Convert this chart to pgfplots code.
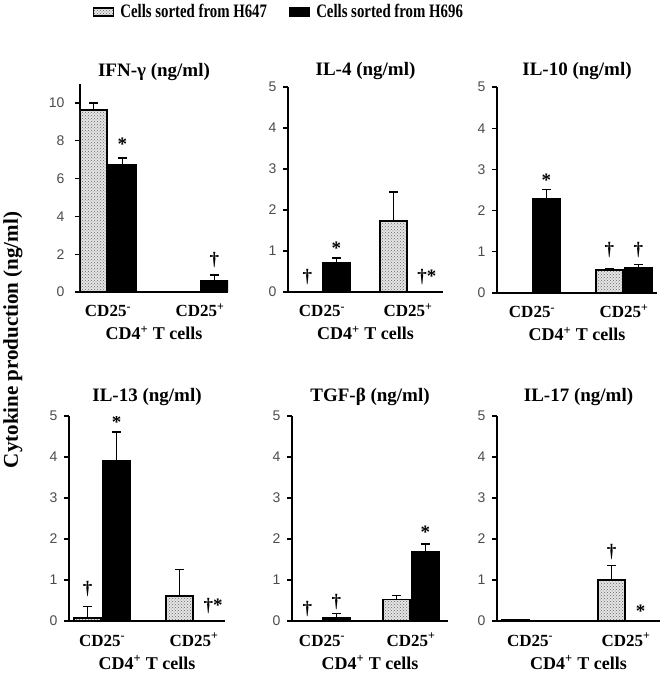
\documentclass[border=0pt]{standalone}
\usepackage{fontspec}
\setmainfont{Liberation Serif}
\newfontfamily\legfont{Liberation Serif}[FakeStretch=0.78]
\newfontfamily\tickfont{Liberation Sans}
\usepackage{pgfplots}
\pgfplotsset{compat=1.18}
\usetikzlibrary{patterns}

\tikzset{ann/.style={font=\bfseries\fontsize{19}{19}\selectfont, inner sep=0pt}}
\pgfplotsset{
  panel/.style={scale only axis, anchor=south west, ymin=0,
    axis lines=left, axis line style={-, line width=1.6pt},
    xtick={1,2}, xticklabels={CD25\textsuperscript{-},CD25\textsuperscript{+}},
    x tick style={draw=none}, ytick style={line width=1.2pt, black},
    tick align=outside, major tick length=5pt,
    /pgf/number format/assume math mode=true,
    yticklabel style={font=\tickfont\mdseries\fontsize{14}{14}\selectfont, text=black!70, xshift=-3pt},
    xticklabel style={font=\bfseries\fontsize{17}{17}\selectfont, anchor=base, yshift=-20pt},
    xlabel={CD4\textsuperscript{+} T cells},
    xlabel style={at={(axis description cs:0.5,0)}, anchor=base, yshift=-48pt, font=\bfseries\fontsize{18}{18}\selectfont},
    title style={at={(axis description cs:0.5,1)}, anchor=base, yshift=6pt, font=\bfseries\fontsize{19}{19}\selectfont},
    ybar=2pt, bar width=27pt,
    error bars/y dir=plus, error bars/y explicit,
    error bars/error mark options={rotate=90, line width=1.2pt, mark size=4.5pt, black},
    error bars/error bar style={line width=1.2pt, black},
  },
  h647/.style={draw=black, line width=1.4pt, fill=gray!20, postaction={pattern=crosshatch dots, pattern color=black!60}},
  h696/.style={draw=black, line width=1.4pt, fill=black},
  lower/.style={title style={yshift=3pt}},
}

\begin{document}
\begin{tikzpicture}
\path[use as bounding box] (0,0) rectangle (665pt,675pt);

% IFN-gamma
\begin{axis}[panel, at={(80pt,383pt)}, width=148pt, height=208pt, ymax=11, ytick={0,2,...,10},
  xmin=0.696, xmax=2.305, title={IFN-γ (ng/ml)}, title style={yshift=-5pt},
  yticklabel style={xshift=-4pt},
  legend style={at={(axis description cs:1.345,1.346)}, anchor=center, draw=none, fill=none,
    legend columns=2, font=\legfont\bfseries\fontsize{19}{19}\selectfont,
    /tikz/every odd column/.append style={column sep=4pt},
    /tikz/every even column/.append style={column sep=20pt}},
  legend image code/.code={\draw[#1, line width=1.2pt] (0pt,-4pt) rectangle (20pt,4pt);}]
\addplot[h647] coordinates {(1,9.63) +- (0,0.37) (2,0)};
\addplot[h696] coordinates {(1,6.72) +- (0,0.37) (2,0.58) +- (0,0.32)};
\legend{Cells sorted from H647, Cells sorted from H696}
\node[ann, xshift=14.5pt] at (axis cs:1,7.8) {*};
\node[ann, xshift=14.5pt] at (axis cs:2,1.7) {†};
\end{axis}

% IL-4
\begin{axis}[panel, at={(288pt,383pt)}, width=155pt, height=205pt, ymax=5, ytick={0,...,5},
  xmin=0.605, xmax=2.407, title={IL-4 (ng/ml)}]
\addplot[h647] coordinates {(1,0) (2,1.73) +- (0,0.71)};
\addplot[h696] coordinates {(1,0.71) +- (0,0.12) (2,0)};
\node[ann, xshift=-14.5pt] at (axis cs:1,0.37) {†};
\node[ann, xshift=14.5pt] at (axis cs:1,1.07) {*};
\node[ann, xshift=19pt] at (axis cs:2,0.37) {†*};
\end{axis}

% IL-10
\begin{axis}[panel, at={(497pt,382pt)}, width=160pt, height=206pt, ymax=5, ytick={0,...,5},
  xmin=0.620, xmax=2.359, title={IL-10 (ng/ml)}]
\addplot[h647] coordinates {(1,0) (2,0.56) +- (0,0.04)};
\addplot[h696] coordinates {(1,2.30) +- (0,0.22) (2,0.61) +- (0,0.09)};
\node[ann, xshift=14.5pt] at (axis cs:1,2.74) {*};
\node[ann, xshift=-14.5pt] at (axis cs:2,1.04) {†};
\node[ann, xshift=14.5pt] at (axis cs:2,1.04) {†};
\end{axis}

% IL-13
\begin{axis}[panel, lower, at={(69pt,54pt)}, width=156pt, height=205pt, ymax=5, ytick={0,...,5},
  xmin=0.641, xmax=2.337, title={IL-13 (ng/ml)}]
\addplot[h647] coordinates {(1,0.07) +- (0,0.29) (2,0.61) +- (0,0.65)};
\addplot[h696] coordinates {(1,3.91) +- (0,0.70) (2,0)};
\node[ann, xshift=-14.5pt] at (axis cs:1,0.78) {†};
\node[ann, xshift=14.5pt] at (axis cs:1,4.85) {*};
\node[ann, xshift=19pt] at (axis cs:2,0.36) {†*};
\end{axis}

% TGF-beta
\begin{axis}[panel, lower, at={(292pt,54pt)}, width=156pt, height=205pt, ymax=5, ytick={0,...,5},
  xmin=0.663, xmax=2.416, title={TGF-β (ng/ml)}]
\addplot[h647] coordinates {(1,0) (2,0.52) +- (0,0.10)};
\addplot[h696] coordinates {(1,0.08) +- (0,0.11) (2,1.68) +- (0,0.20)};
\node[ann, xshift=-14.5pt] at (axis cs:1,0.30) {†};
\node[ann, xshift=14.5pt] at (axis cs:1,0.46) {†};
\node[ann, xshift=14.5pt] at (axis cs:2,2.16) {*};
\end{axis}

% IL-17
\begin{axis}[panel, lower, at={(497pt,54pt)}, width=163pt, height=205pt, ymax=5, ytick={0,...,5},
  xmin=0.656, xmax=2.354, title={IL-17 (ng/ml)}]
\addplot[h647] coordinates {(1,0.02) +- (0,0.02) (2,1.00) +- (0,0.36)};
\addplot[h696] coordinates {(1,0) (2,0)};
\node[ann, xshift=-14.5pt] at (axis cs:2,1.68) {†};
\node[ann, xshift=14.5pt] at (axis cs:2,0.24) {*};
\end{axis}

\node[rotate=90, font=\bfseries\fontsize{21}{21}\selectfont] at (13pt,335pt) {Cytokine production (ng/ml)};
\end{tikzpicture}
\end{document}
